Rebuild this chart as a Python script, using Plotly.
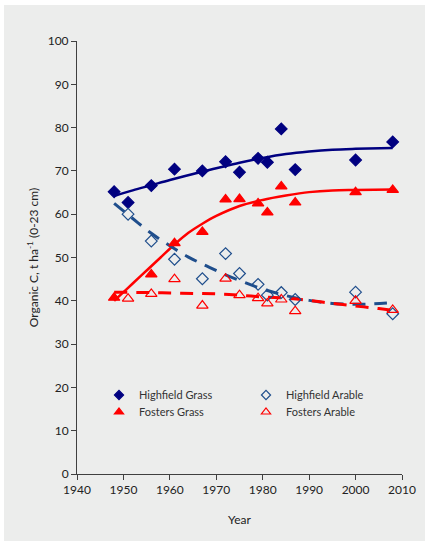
import plotly.graph_objects as go

# ---------------- data ----------------
hg_years = [1948, 1951, 1956, 1961, 1967, 1972, 1975, 1979, 1981, 1984, 1987, 2000, 2008]
hg_vals = [65.2, 62.7, 66.6, 70.4, 70.0, 72.1, 69.7, 72.9, 72.0, 79.7, 70.3, 72.5, 76.7]

fg_years = [1948, 1956, 1961, 1967, 1972, 1975, 1979, 1981, 1984, 1987, 2000, 2008]
fg_vals = [40.7, 46.1, 53.3, 55.9, 63.4, 63.5, 62.5, 60.4, 66.4, 62.7, 65.1, 65.6]

ha_years = [1951, 1956, 1961, 1967, 1972, 1975, 1979, 1981, 1984, 1987, 2000, 2008]
ha_vals = [60.0, 53.8, 49.6, 45.1, 50.9, 46.3, 43.8, 41.3, 41.9, 40.3, 42.0, 37.0]

fa_years = [1951, 1956, 1961, 1967, 1972, 1975, 1979, 1981, 1984, 1987, 2000, 2008]
fa_vals = [40.5, 41.6, 45.0, 38.9, 45.1, 41.3, 40.6, 39.4, 40.3, 37.6, 40.0, 37.9]

# fitted curves
hg_fit_years = [1948, 1952, 1956, 1960, 1965, 1970, 1975, 1980, 1985, 1990, 1995, 2000, 2008]
hg_fit_vals = [64.2, 65.5, 66.7, 67.9, 69.3, 70.6, 71.9, 73.0, 73.9, 74.5, 74.9, 75.1, 75.3]

fg_fit_years = [1948, 1950, 1952, 1955, 1958, 1961, 1964, 1967, 1970, 1975, 1980, 1985, 1990, 1995, 2000, 2008]
fg_fit_vals = [40.0, 42.0, 44.0, 47.0, 50.0, 53.0, 55.7, 57.8, 59.6, 61.9, 63.3, 64.3, 65.1, 65.5, 65.6, 65.7]

ha_fit_years = [1948, 1952, 1956, 1960, 1964, 1968, 1972, 1976, 1980, 1985, 1990, 1995, 2000, 2004, 2008]
ha_fit_vals = [62.5, 59.0, 55.6, 52.7, 50.1, 48.0, 46.0, 44.3, 42.7, 41.2, 40.1, 39.4, 39.2, 39.3, 39.6]

fa_fit_years = [1948, 1955, 1960, 1965, 1970, 1975, 1980, 1985, 1990, 1995, 2000, 2005, 2008]
fa_fit_vals = [42.0, 41.9, 41.8, 41.7, 41.6, 41.3, 40.9, 40.6, 40.1, 39.4, 38.8, 38.2, 37.8]

x_ticks = [1940, 1950, 1960, 1970, 1980, 1990, 2000, 2010]
y_ticks = [0, 10, 20, 30, 40, 50, 60, 70, 80, 90, 100]

# ---------------- styling ----------------
NAVY = "#000080"
STEEL = "#1F4E8C"
RED = "#FF0000"
BG = "#ECEDEC"
FONT = "Lato, 'Open Sans', sans-serif"

W, H = 429, 546
ML, MR, MT, MB = 77, 27, 41, 72
pw = W - ML - MR
ph = H - MT - MB


def px_x(p):
    return (p - ML) / pw


def px_y(p):
    return (H - MB - p) / ph


fig = go.Figure()

# fitted lines
fig.add_trace(go.Scatter(x=hg_fit_years, y=hg_fit_vals, mode="lines", line=dict(color=NAVY, width=2.5, shape="spline"),
                         showlegend=False, hoverinfo="skip"))
fig.add_trace(go.Scatter(x=fg_fit_years, y=fg_fit_vals, mode="lines", line=dict(color=RED, width=2.5, shape="spline"),
                         showlegend=False, hoverinfo="skip"))
fig.add_trace(go.Scatter(x=ha_fit_years, y=ha_fit_vals, mode="lines",
                         line=dict(color=STEEL, width=3, dash="13px,9px", shape="spline"),
                         showlegend=False, hoverinfo="skip"))
fig.add_trace(go.Scatter(x=fa_fit_years, y=fa_fit_vals, mode="lines",
                         line=dict(color=RED, width=3, dash="13px,9px", shape="spline"),
                         showlegend=False, hoverinfo="skip"))

# series definitions: (name, years, vals, symbol, size, color, legend key, legend-marker size)
series = [
    ("Highfield Grass", hg_years, hg_vals, "diamond", 9, NAVY, "legend", 7),
    ("Highfield Arable", ha_years, ha_vals, "diamond-open", 9, STEEL, "legend2", 7),
    ("Fosters Grass", fg_years, fg_vals, "triangle-up", 10, RED, "legend3", 8),
    ("Fosters Arable", fa_years, fa_vals, "triangle-up-open", 10, RED, "legend4", 8),
]

for name, xs, ys, sym, sz, col, lg, lsz in series:
    fig.add_trace(go.Scatter(x=xs, y=ys, mode="markers", name=name, showlegend=False,
                             marker=dict(symbol=sym, size=sz, color=col, line=dict(width=1.2, color=col))))
    # legend-only entry with smaller marker
    fig.add_trace(go.Scatter(x=[None], y=[None], mode="markers", name=name, legend=lg,
                             marker=dict(symbol=sym, size=lsz, color=col, line=dict(width=1.2, color=col))))

# gray background panel with a thin white border
fig.add_shape(type="rect", xref="paper", yref="paper", layer="below",
              x0=px_x(4), x1=px_x(425), y0=px_y(541), y1=px_y(5),
              fillcolor=BG, line=dict(width=0))

axis_common = dict(showline=True, linecolor="#404040", linewidth=1, ticks="outside", ticklen=5,
                   tickcolor="#404040", showgrid=False, zeroline=False, automargin=True,
                   tickfont=dict(family=FONT, size=12, color="#222222"))

legend_common = dict(bgcolor="rgba(0,0,0,0)", font=dict(family=FONT, size=11, color="#333333"),
                     orientation="v", xanchor="left", yanchor="middle", tracegroupgap=0,
                     itemwidth=30)

fig.update_layout(
    width=W, height=H,
    margin=dict(l=ML, r=MR, t=MT, b=MB),
    paper_bgcolor="white",
    plot_bgcolor="rgba(0,0,0,0)",
    font=dict(family=FONT, color="#222222"),
    xaxis=dict(range=[1940, 2010], tickvals=x_ticks, ticktext=[str(v) for v in x_ticks],
               title=dict(text="Year", standoff=19, font=dict(family=FONT, size=12, color="#222222")),
               **axis_common),
    yaxis=dict(range=[0, 100], tickvals=y_ticks, ticktext=[str(v) for v in y_ticks],
               title=dict(text="Organic C, t ha<sup>-1</sup> (0-23 cm)", standoff=6,
                          font=dict(family=FONT, size=12, color="#222222")),
               **axis_common),
    legend=dict(x=px_x(99), y=px_y(395), **legend_common),
    legend2=dict(x=px_x(246), y=px_y(395), **legend_common),
    legend3=dict(x=px_x(99), y=px_y(412), **legend_common),
    legend4=dict(x=px_x(246), y=px_y(412), **legend_common),
)

fig.write_html("out.html", config={"displayModeBar": False},
               post_script="document.body.style.margin='0';")
